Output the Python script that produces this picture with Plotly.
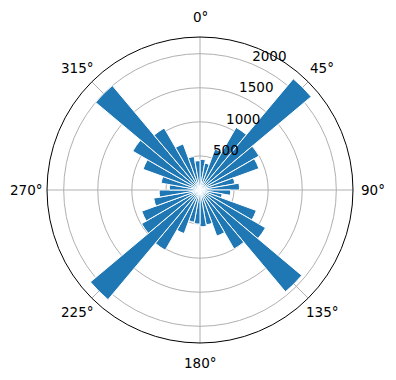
import math
import plotly.graph_objects as go

# Histogram bins (bin centres, degrees clockwise from north) and counts
bin_centers = [5, 15, 25, 35, 45, 55, 65, 75, 85,
               95, 105, 115, 125, 135, 145, 155, 165, 175,
               185, 195, 205, 215, 225, 235, 245, 255, 265,
               275, 285, 295, 305, 315, 325, 335, 345, 355]
counts = [450, 400, 640, 1060, 2130, 1000, 920, 520, 580,
          450, 330, 880, 1110, 1950, 1000, 720, 520, 540,
          500, 480, 680, 1020, 2100, 990, 910, 690, 600,
          450, 580, 890, 1140, 2000, 1050, 720, 500, 430]
bin_width = 10
theta_ticks = [0, 45, 90, 135, 180, 225, 270, 315]
theta_labels = [f"{t}°" for t in theta_ticks]
r_ticks = [500, 1000, 1500, 2000]
r_label_angle = 22.5
r_max = 2245

W, H = 396, 380
cx, cy, R = 200, 190, 153
label_r = 173

font = dict(family="DejaVu Sans", size=13.5, color="black")

fig = go.Figure()
fig.add_trace(go.Barpolar(
    r=counts, theta=bin_centers, width=[bin_width] * len(counts),
    marker=dict(color="#1f77b4", line=dict(color="white", width=1)),
    opacity=1, hoverinfo="skip",
))
# radial tick labels, placed through the polar scale
fig.add_trace(go.Scatterpolar(
    r=r_ticks, theta=[r_label_angle] * len(r_ticks),
    mode="text", text=[str(v) for v in r_ticks],
    textposition="top right", textfont=font,
    marker=dict(size=1),
    hoverinfo="skip", cliponaxis=False,
))

annotations = []
for t, lab in zip(theta_ticks, theta_labels):
    a = math.radians(t)
    x = (cx + label_r * math.sin(a)) / W
    y = 1 - (cy - label_r * math.cos(a)) / H
    annotations.append(dict(x=x, y=y, xref="paper", yref="paper", text=lab,
                            showarrow=False, xanchor="center", yanchor="middle",
                            font=font))

fig.update_layout(
    width=W, height=H,
    margin=dict(l=0, r=0, t=0, b=0),
    paper_bgcolor="white",
    showlegend=False,
    font=font,
    annotations=annotations,
    polar=dict(
        domain=dict(x=[(cx - R) / W, (cx + R) / W], y=[1 - (cy + R) / H, 1 - (cy - R) / H]),
        bgcolor="white",
        bargap=0,
        angularaxis=dict(
            rotation=90, direction="clockwise",
            tickmode="array", tickvals=theta_ticks, ticktext=theta_labels,
            showticklabels=False,
            showline=True, linecolor="black", linewidth=1,
            gridcolor="#b0b0b0", gridwidth=0.8,
            ticks="", layer="above traces",
        ),
        radialaxis=dict(
            range=[0, r_max], angle=67.5,
            tickmode="array", tickvals=r_ticks,
            showticklabels=False,
            showline=False, ticks="",
            gridcolor="#b0b0b0", gridwidth=0.8,
            layer="above traces",
        ),
    ),
)
fig.write_html("out.html")
